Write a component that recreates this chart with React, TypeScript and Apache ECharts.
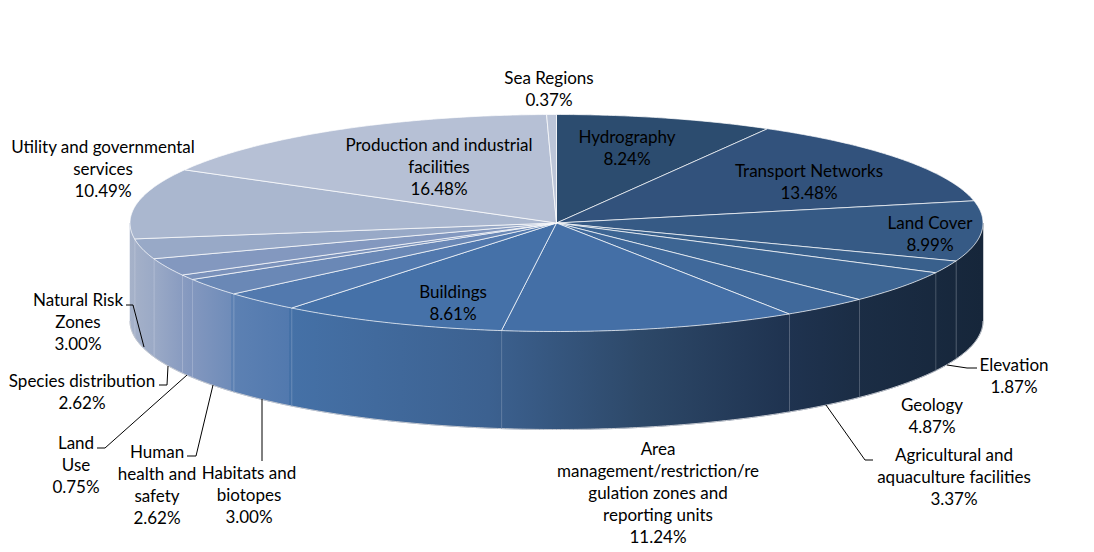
import React, { useEffect, useRef } from "react";
import * as echarts from "echarts";

const categories = [
  "Hydrography", "Transport Networks", "Land Cover", "Elevation", "Geology",
  "Agricultural and\naquaculture facilities", "Area\nmanagement/restriction/re\ngulation zones and\nreporting units",
  "Buildings", "Habitats and\nbiotopes", "Human\nhealth and\nsafety", "Land\nUse", "Species distribution",
  "Natural Risk\nZones", "Utility and governmental\nservices", "Production and industrial\nfacilities", "Sea Regions",
];
const shares = [8.24, 13.48, 8.99, 1.87, 4.87, 3.37, 11.24, 8.61, 3.0, 2.62, 0.75, 2.62, 3.0, 10.49, 16.48, 0.37];
const sliceColors = [
  "#2c4c6f", "#32527c", "#365a85", "#39608c", "#3d6593", "#40699b", "#446fa6", "#4571a8",
  "#5279ae", "#6a88b6", "#7b92bb", "#8398bf", "#98a9c7", "#aab7cf", "#b6c0d5", "#bcc5d8",
];
const labelCenters = [
  [627, 136], [809, 170], [930, 222], [1014, 364], [932, 404], [954, 454], [658, 448], [453, 291],
  [249, 472], [157, 451], [76, 442], [82, 380], [78, 299], [103, 146], [439, 144], [549, 77],
];
const leaderLines = [
  [[977, 368], [967, 368], [947, 365]],
  [[873, 460], [865, 460], [826, 405]],
  [[262, 399], [262, 461]],
  [[213, 385], [196, 456], [187, 456]],
  [[187, 375], [105, 448], [97, 448]],
  [[168, 366], [167, 385], [159, 385]],
  [[126, 305], [133, 305], [144, 347]],
];

const CX = 556.5, CY = 223, RX = 426.5, RY = 108.5, DEPTH = 98;
const FONT = "Lato";
const total = shares.reduce((a, b) => a + b, 0);
const startOf = (i: number) => shares.slice(0, i).reduce((a, b) => a + b, 0) / total * Math.PI * 2;
const px = (t: number) => CX + RX * Math.sin(t);
const py = (t: number) => CY - RY * Math.cos(t);

function arcPoints(a: number, b: number, dy = 0) {
  const n = Math.max(2, Math.ceil((b - a) / 0.01));
  const out: number[][] = [];
  for (let k = 0; k <= n; k++) {
    const t = a + ((b - a) * k) / n;
    out.push([px(t), py(t) + dy]);
  }
  return out;
}

const rimGradient = new echarts.graphic.LinearGradient(CX - RX, 0, CX + RX, 0, [
  { offset: 0, color: "#a6b2c9" },
  { offset: 0.03, color: "#9aa9c6" },
  { offset: 0.07, color: "#8498bf" },
  { offset: 0.118, color: "#6f8cb9" },
  { offset: 0.119, color: "#5d81b3" },
  { offset: 0.186, color: "#5279ae" },
  { offset: 0.187, color: "#4571a7" },
  { offset: 0.42, color: "#3c6190" },
  { offset: 0.6, color: "#2d4868" },
  { offset: 0.77, color: "#1f3350" },
  { offset: 0.85, color: "#1b2d45" },
  { offset: 1, color: "#16263a" },
], true);

const renderRim = (params: any, api: any) => {
  const i = params.dataIndex;
  const a = Math.max(startOf(i), Math.PI / 2);
  const b = Math.min(startOf(i) + (api.value(0) / total) * Math.PI * 2, (Math.PI * 3) / 2);
  if (b <= a) return { type: "group", children: [] };
  const top = arcPoints(a, b);
  const bottom = arcPoints(a, b, DEPTH).reverse();
  const children: any[] = [
    { type: "polygon", shape: { points: [...top, ...bottom] }, style: { fill: rimGradient, stroke: rimGradient, lineWidth: 0.5 } },
    { type: "polyline", shape: { points: arcPoints(a, b, DEPTH) }, style: { fill: "none", stroke: "#c4c8d0", lineWidth: 1 } },
  ];
  if (b < (Math.PI * 3) / 2) {
    children.push({
      type: "line",
      shape: { x1: px(b), y1: py(b), x2: px(b), y2: py(b) + DEPTH },
      style: { stroke: "rgba(225,230,238,0.55)", lineWidth: 1.2 },
    });
  }
  return { type: "group", children };
};

const renderTop = (params: any, api: any) => {
  const i = params.dataIndex;
  const a = startOf(i);
  const b = a + (api.value(0) / total) * Math.PI * 2;
  const pts = arcPoints(a, b);
  return {
    type: "polygon",
    shape: { points: [[CX, CY], ...pts] },
    style: { fill: sliceColors[i], stroke: "#ffffff", lineWidth: 0.7, lineJoin: "round" },
  };
};

const renderLabel = (params: any, api: any) => {
  const i = params.dataIndex;
  const [cx, y] = labelCenters[i];
  const text = `${categories[i]}\n${api.value(0).toFixed(2)}%`;
  return {
    type: "text",
    x: cx,
    y: y - 11,
    style: { text, fill: "#000000", font: `17px ${FONT}`, align: "center", verticalAlign: "top", lineHeight: 22 },
  };
};

export default function App() {
  const ref = useRef<HTMLDivElement>(null);
  useEffect(() => {
    const chart = echarts.init(ref.current!, undefined, { renderer: "svg" });
    const data = shares.map((v, i) => ({ name: categories[i], value: [v] }));
    chart.setOption({
      animation: false,
      backgroundColor: "#ffffff",
      series: [
        { type: "custom", coordinateSystem: "none", renderItem: renderRim, data, z: 1, silent: true, clip: false },
        { type: "custom", coordinateSystem: "none", renderItem: renderTop, data, z: 2, silent: true, clip: false },
        { type: "custom", coordinateSystem: "none", renderItem: renderLabel, data, z: 4, silent: true, clip: false },
      ],
      graphic: leaderLines.map((points) => ({
        type: "polyline",
        z: 3,
        silent: true,
        shape: { points },
        style: { fill: "none", stroke: "#000000", lineWidth: 1 },
      })),
    });
    return () => chart.dispose();
  }, []);
  return <div ref={ref} style={{ position: "fixed", left: 0, top: 0, width: 1094, height: 552 }} />;
}
